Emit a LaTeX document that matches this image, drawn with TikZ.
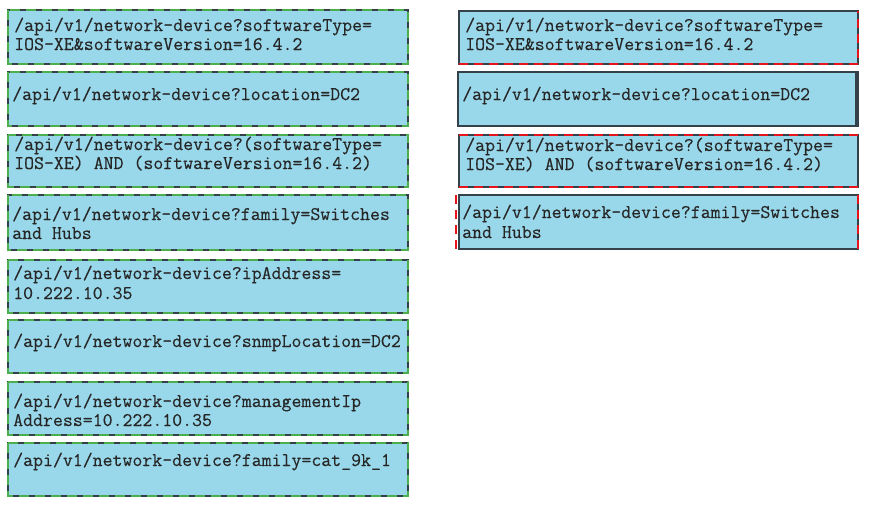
\documentclass[tikz,border=0pt]{standalone}
\usepackage{fontspec}
\newfontfamily\courfont[FakeBold=0.3]{Latin Modern Mono}
\definecolor{boxfill}{HTML}{99D8EA}
\definecolor{boxline}{HTML}{34404A}
\definecolor{dgreen}{HTML}{4CAE4C}
\definecolor{dred}{HTML}{E8141C}
\tikzset{
  boxst/.style={draw=boxline, fill=boxfill, line width=1.2pt},
  greendash/.style={draw=dgreen, line width=2.2pt, dash pattern=on 10pt off 6pt},
  reddash/.style={draw=dred, line width=2pt, dash pattern=on 9pt off 6pt},
  txt/.style={anchor=base west, inner sep=0pt, font=\courfont\fontsize{19.3}{19}\selectfont, text=black!85}
}
\begin{document}
\begin{tikzpicture}[x=1pt,y=-1pt]
\useasboundingbox (0,0) rectangle (869,504);
\fill[white] (0,0) rectangle (869,504);
% left column boxes
\foreach \n/\ya/\yb in {L1/10/64, L2/72/126, L3/135/187, L4/195/250, L5/260/313, L6/320/373, L7/382/435, L8/443/496}{
  \path[boxst] (8,\ya) rectangle (408,\yb);
  \coordinate (\n nw) at (8,\ya);
  \coordinate (\n se) at (408,\yb);
  \draw[greendash] (\n nw) rectangle (\n se);
}
% right column boxes
\path[boxst] (459,11) rectangle (858,64);
\coordinate (R1nw) at (459,11); \coordinate (R1se) at (858,64);
\path[boxst] (458,72) rectangle (858,126);
\draw[boxline, line width=1.2pt] (856,72) -- (856,126);
\path[boxst] (459,135) rectangle (858,187);
\coordinate (R3nw) at (459,135); \coordinate (R3se) at (858,187);
\path[boxst] (459,195) rectangle (858,249);
\coordinate (R4nw) at (459,195); \coordinate (R4se) at (858,249);
% red dashed highlights
\draw[reddash] (R1nw |- R1se) -- (R1se) -- (R1se |- R1nw);
\draw[reddash] (R3nw) -- (R3se |- R3nw);
\draw[reddash] (R3nw |- R3se) -- (R3se);
\draw[reddash] (456,195) -- (456,249);
\draw[reddash] (R4se |- R4nw) -- (R4se);
% texts left
\node[txt] (t1a) at (14,31) {/api/v1/network-device?softwareType=};
\node[txt] (t1b) at (14,50) {IOS-XE\&softwareVersion=16.4.2};
\node[txt] (t2a) at (12,100) {/api/v1/network-device?location=DC2};
\node[txt] (t3a) at (14,150) {/api/v1/network-device?(softwareType=};
\node[txt] (t3b) at (14,169) {IOS-XE) AND (softwareVersion=16.4.2)};
\node[txt] (t4a) at (12,220) {/api/v1/network-device?family=Switches};
\node[txt] (t4b) at (12,239) {and Hubs};
\node[txt] (t5a) at (13,279) {/api/v1/network-device?ipAddress=};
\node[txt] (t5b) at (13,299) {10.222.10.35};
\node[txt] (t6a) at (13,347) {/api/v1/network-device?snmpLocation=DC2};
\node[txt] (t7a) at (13,407) {/api/v1/network-device?managementIp};
\node[txt] (t7b) at (13,426) {Address=10.222.10.35};
\node[txt] (t8a) at (13,466) {/api/v1/network-device?family=cat\_9k\_1};
% texts right
\node[txt] (r1a) at (465,31) {/api/v1/network-device?softwareType=};
\node[txt] (r1b) at (465,50) {IOS-XE\&softwareVersion=16.4.2};
\node[txt] (r2a) at (462,100) {/api/v1/network-device?location=DC2};
\node[txt] (r3a) at (465,151) {/api/v1/network-device?(softwareType=};
\node[txt] (r3b) at (465,170) {IOS-XE) AND (softwareVersion=16.4.2)};
\node[txt] (r4a) at (462,218) {/api/v1/network-device?family=Switches};
\node[txt] (r4b) at (462,238) {and Hubs};
\end{tikzpicture}
\end{document}
